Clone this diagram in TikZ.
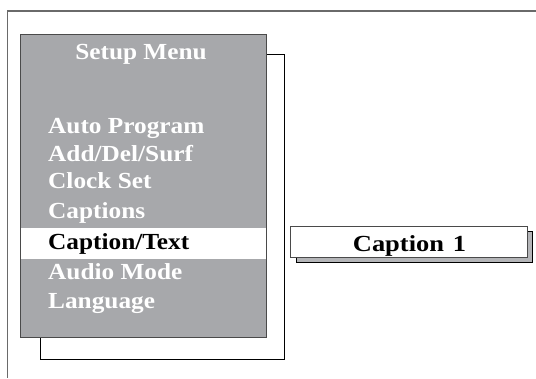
\documentclass[tikz,border=0pt]{standalone}
\usepackage{fontspec}
\setmainfont{Liberation Serif}
\definecolor{framegray}{HTML}{6A6A6A}
\definecolor{menugray}{HTML}{A7A8AB}
\definecolor{edgegray}{HTML}{4A4A4A}
\definecolor{shadowgray}{HTML}{B4B5B8}
\newcommand{\wide}[1]{\scalebox{1.1}[1]{#1}}
\begin{document}
\begin{tikzpicture}[x=1pt,y=-1pt,
  menuitem/.style={anchor=base west, inner sep=0pt, text=white, font=\fontsize{23}{23}\selectfont\bfseries},
  selitem/.style={menuitem, text=black},
  panel/.style={draw=edgegray, line width=1pt, fill=menugray, inner sep=0pt},
  capbox/.style={draw=edgegray, line width=1pt, fill=white, inner sep=0pt},
  capshadow/.style={draw=black, line width=0.8pt, fill=shadowgray, inner sep=0pt}]
\useasboundingbox (0,0) rectangle (536,378);
% outer frame
\coordinate (ftr) at (536,11);
\coordinate (ftl) at (7.5,11);
\coordinate (fbl) at (7.5,378);
\draw[framegray, line width=1.5pt] (ftr) -- (ftl) -- (fbl);
% menu shadow frame
\coordinate (s1) at (266,54);
\coordinate (s2) at (284,54);
\coordinate (s3) at (284,359);
\coordinate (s4) at (40,359);
\coordinate (s5) at (40,337);
\draw[black, line width=0.8pt] (s1) -- (s2) -- (s3) -- (s4) -- (s5);
% menu panel
\node[panel, minimum width=246pt, minimum height=303pt] (menu) at (143,185.5) {};
\node[fill=white, inner sep=0pt, minimum width=245pt, minimum height=31pt] (hl) at (143,243.5) {};
\node[menuitem, anchor=base] (title) at (141,59) {\wide{Setup Menu}};
\node[menuitem] (i1) at (48,133) {\wide{Auto Program}};
\node[menuitem] (i2) at (48,161) {\wide{Add/Del/Surf}};
\node[menuitem] (i3) at (48,188) {\wide{Clock Set}};
\node[menuitem] (i4) at (48,218) {\wide{Captions}};
\node[selitem]  (i5) at (48,249) {\wide{Caption/Text}};
\node[menuitem] (i6) at (48,279) {\wide{Audio Mode}};
\node[menuitem] (i7) at (48,308) {\wide{Language}};
% caption box
\node[capshadow, minimum width=236pt, minimum height=31pt] (capsh) at (414,246.5) {};
\node[capbox, minimum width=237pt, minimum height=31pt] (cap) at (408.5,241.5) {};
\node[selitem, anchor=base] (captext) at (409.5,251) {\scalebox{1.15}[1]{Caption\,\,1}};
\end{tikzpicture}
\end{document}
